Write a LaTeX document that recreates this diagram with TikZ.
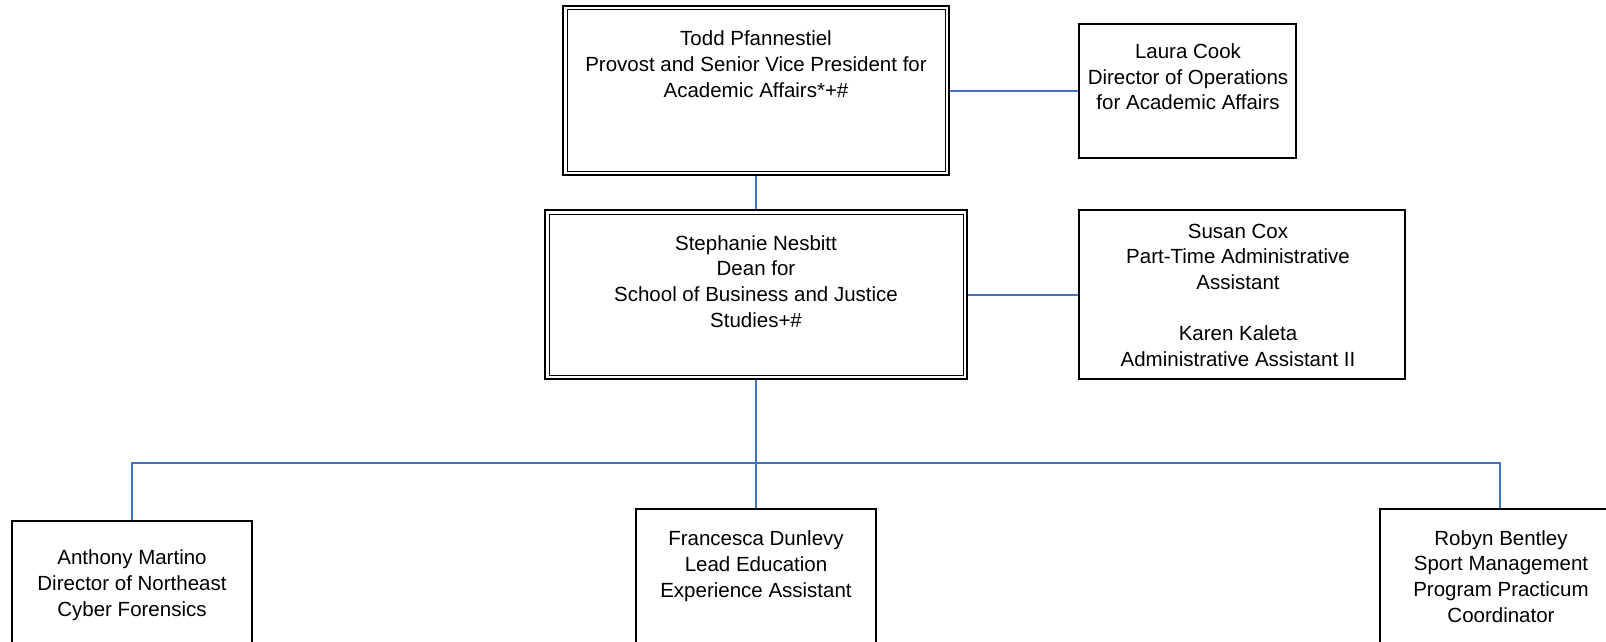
\documentclass[tikz,border=0pt]{standalone}
\usepackage{fontspec}
\setmainfont{Liberation Sans}
\usetikzlibrary{calc}
\definecolor{connblue}{RGB}{68,114,196}
\begin{document}
\begin{tikzpicture}[x=1pt,y=-1pt,
  box/.style={draw=black, line width=1.6pt, fill=white, inner sep=0pt},
  dbox/.style={draw=black, line width=2pt, fill=white, inner sep=0pt},
  innerline/.style={draw=black, line width=1pt},
  txt/.style={anchor=base, inner sep=0pt, align=center, font=\fontsize{20.5}{25.6}\selectfont},
  conn/.style={draw=connblue, line width=2pt}]
\useasboundingbox (0,0) rectangle (1606,642);
\clip (0,0) rectangle (1606,642);
% boxes
\node[dbox, minimum width=386pt, minimum height=169pt] (provost) at (756,90.5) {};
\draw[innerline] ($(provost.north west)+(5,5)$) rectangle ($(provost.south east)+(-5,-5)$);
\node[box, minimum width=217pt, minimum height=134pt] (laura) at (1187.5,91) {};
\node[dbox, minimum width=422pt, minimum height=169pt] (dean) at (756,294.5) {};
\draw[innerline] ($(dean.north west)+(5,5)$) rectangle ($(dean.south east)+(-5,-5)$);
\node[box, minimum width=326pt, minimum height=169pt] (susan) at (1242,294.5) {};
\node[box, minimum width=240pt, minimum height=169pt] (anthony) at (132,605.5) {};
\node[box, minimum width=240pt, minimum height=169pt] (francesca) at (756,593.5) {};
\node[box, minimum width=240pt, minimum height=169pt] (robyn) at (1500,593.5) {};
% texts (anchored at baseline of last line)
\node[txt] (provost-t) at (756,97) {Todd Pfannestiel\\Provost and Senior Vice President for\\Academic Affairs*+\#};
\node[txt] (laura-t) at (1188,110) {Laura Cook\\Director of Operations\\for Academic Affairs};
\node[txt] (dean-t) at (756,327) {Stephanie Nesbitt\\Dean for\\School of Business and Justice\\Studies+\#};
\node[txt] (susan-t) at (1238,366) {Susan Cox\\Part-Time Administrative\\Assistant\\[25.6pt]Karen Kaleta\\Administrative Assistant II};
\node[txt] (anthony-t) at (132,616) {Anthony Martino\\Director of Northeast\\Cyber Forensics};
\node[txt] (francesca-t) at (756,597) {Francesca Dunlevy\\Lead Education\\Experience Assistant};
\node[txt] (robyn-t) at (1501,622) {Robyn Bentley\\Sport Management\\Program Practicum\\Coordinator};
% connectors
\coordinate (bar) at (756,463);
\draw[conn] (provost.east) -- (provost.east -| laura.west);
\draw[conn] (provost.south) -- (dean.north);
\draw[conn] (dean.east) -- (susan.west);
\draw[conn] (dean.south) -- (francesca.north);
\draw[conn] (anthony.north) |- (bar) -| (robyn.north);
\end{tikzpicture}
\end{document}
